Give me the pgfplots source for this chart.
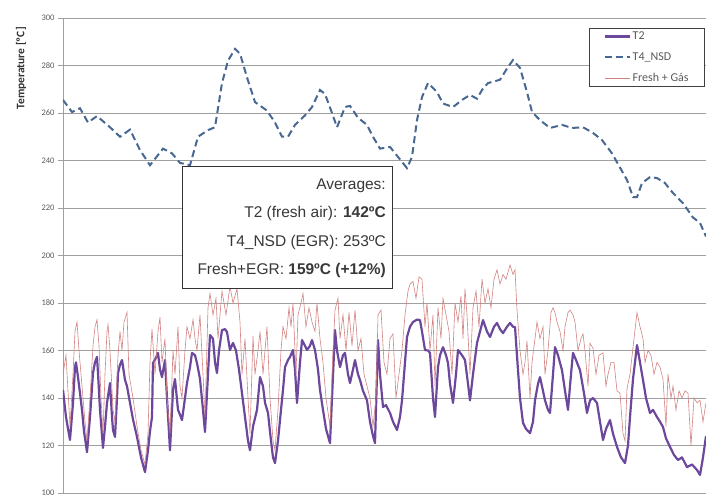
\documentclass[border=0pt]{standalone}
\usepackage{pgfplots}
\pgfplotsset{compat=1.18}
\usepackage{fontspec}
\setmainfont{Carlito}
\newfontfamily\arialf{Liberation Sans}

\definecolor{tTwo}{RGB}{108,72,156}
\definecolor{tFour}{RGB}{72,104,146}
\definecolor{fresh}{RGB}{210,130,130}
\definecolor{gridc}{RGB}{160,160,160}
\definecolor{tickc}{RGB}{90,90,90}

\begin{document}
\begin{tikzpicture}
\begin{axis}[
  scale only axis,
  width=643pt, height=475pt,
  xmin=63, xmax=706,
  ymin=100, ymax=300,
  ytick={100,120,...,300},
  xtick=\empty,
  ymajorgrids=true,
  grid style={gridc, line width=0.9pt},
  axis lines*=left,
  axis line style={gridc, -, line width=0.9pt},
  tick style={gridc, line width=0.9pt},
  tick align=outside,
  major tick length=5pt,
  /pgf/number format/assume math mode=true,
  yticklabel style={font=\fontsize{8.5}{10}\selectfont, text=tickc},
  legend style={at={(rel axis cs:1,1)}, xshift=-1pt, yshift=-10pt,
    anchor=north east, draw=black!75, line width=0.8pt,
    font=\fontsize{12}{14}\selectfont, text=tickc,
    row sep=7.5pt, inner xsep=14pt, inner ysep=1.5pt},
  legend cell align=left,
  legend image code/.code={\draw[#1] (0pt,0pt) -- (25pt,0pt);},
]
% T2
\addplot[tTwo, line width=2.2pt, line join=round] coordinates {
(63,143.4) (66,132) (70,122.3) (73,137.9) (75,153) (76,155) (78,148.8) (80,142)
(82,135) (84,126) (87,117.2) (90,132) (93,150.5) (95,155) (97,157.3) (98,150.5)
(100,135) (103,119) (105,128) (107,137.9) (110,146.3) (112,132) (113,126.5) (115,123.6)
(117,140) (118,150.5) (120,154) (122,156) (125,147.6) (127,145) (130,137.9) (133,131)
(137,123.6) (141,115) (145,108.8) (148,118) (150,126) (152,132) (153,154.7) (156,157)
(158,159) (160,152) (162,148.8) (165,156) (167,140) (170,118) (173,143.4) (175,148)
(178,135) (180,133) (182,130.7) (185,140) (187,146.3) (190,153) (192,159) (195,158)
(197,154.7) (200,148) (203,135) (205,125.7) (208,150) (210,166.5) (213,165) (215,155)
(217,150.5) (219,160) (222,168.6) (225,169) (227,167.8) (230,160.2) (233,163.2) (236,160)
(239,152) (242,142) (245,132) (248,122) (250,118) (253,128) (257,135) (260,148.8)
(263,145) (265,138) (268,133.7) (271,122) (273,115) (275,112.6) (278,122) (281,135)
(283,143.4) (285,153) (288,156) (290,157.3) (293,160.2) (295,152) (297,137.9) (300,155)
(302,164.4) (305,162) (307,160.2) (310,162) (312,164.4) (315,160.2) (318,152) (320,143.4)
(323,135) (326,127) (330,121) (332,140) (335,168.6) (337,160) (340,153) (343,158)
(345,159) (348,150) (350,146.3) (353,152) (355,156) (358,150) (360,147.6) (363,143)
(367,139) (370,130) (373,124) (375,121) (377,150) (378,164.4) (380,150) (383,136.2)
(386,137) (390,133.7) (393,130) (397,126.5) (400,132) (402,139) (405,155) (407,165.7)
(410,170) (413,172) (417,173) (420,172.8) (422,168) (425,160.2) (428,160) (430,159)
(433,140) (435,132) (438,153) (440,158) (443,161.4) (446,158) (448,154.7) (450,146)
(453,137.9) (456,150) (458,160.2) (462,158) (465,156) (468,146) (470,139) (473,150)
(477,163.2) (480,168) (483,172.8) (487,168) (490,165.7) (494,170) (497,171.6) (500,169)
(503,167.3) (507,170) (510,171.6) (513,170) (515,169.9) (518,151.7) (520,140) (523,129.5)
(526,127) (530,125.2) (533,130) (535,139) (538,146) (540,148.8) (543,143) (545,139)
(548,135) (550,133.7) (553,150) (555,161.4) (558,158) (562,151.7) (565,143) (568,135)
(571,150) (573,159) (576,156) (580,151.7) (584,142) (587,133.7) (590,139) (593,140)
(597,137.9) (600,130) (603,122.3) (606,127) (610,130.7) (613,125) (617,119.4) (621,115)
(625,112.6) (628,120) (630,132) (633,148) (637,162.3) (640,155) (643,147.6) (646,140)
(650,133.7) (653,135) (657,132) (660,130) (663,127.8) (666,123) (670,119.4) (674,116)
(678,113.9) (682,115) (687,110.9) (692,112) (697,109.7) (700,107.6) (703,115) (706,124)
};
% T4_NSD
\addplot[tFour, line width=2pt, dash pattern=on 7pt off 4pt] coordinates {
(63,265.5) (72,260.4) (80,262) (88,256) (97,258.7) (110,254) (120,250) (130,253)
(140,244.4) (150,238) (163,245) (172,243) (180,239) (190,238) (198,250) (208,252.8)
(215,254) (222,272.6) (228,282) (235,287) (240,285) (247,275) (255,264.6) (267,261)
(275,256) (282,250) (288,250) (295,255) (305,259) (312,262.5) (320,269.7) (325,268)
(332,260) (337,254) (345,262.5) (350,263) (358,258) (367,255) (373,250) (380,245)
(390,245.7) (398,241.5) (407,236.8) (412,241.5) (417,257) (422,266.7) (428,272.6) (437,268.8)
(443,264) (453,262.5) (462,265.5) (470,267.6) (477,266) (482,269.7) (488,272.6) (500,274)
(508,279.4) (513,282.3) (520,279) (527,268.8) (532,260.4) (540,257) (550,253.7) (562,255)
(572,253.7) (583,254) (593,251.6) (602,248.6) (612,243) (620,237) (627,231.8) (633,224.6)
(637,224.6) (642,230.5) (650,233) (657,232.6) (665,230.5) (673,226.3) (683,222) (693,216)
(700,213.7) (706,208)
};
% Fresh + Gas
\addplot[fresh, line width=0.6pt] coordinates {
(63,150) (66,158) (70,128) (73,150) (75,168) (77,172) (79,160) (82,145) (85,130) (87,122)
(90,140) (93,162) (95,170) (97,173) (99,162) (101,140) (103,125) (105,150) (107,168) (108,171)
(110,160) (113,135) (115,130) (118,158) (120,168) (122,160) (124,172) (127,176) (129,150) (131,145)
(133,140) (137,128) (141,118) (145,112) (148,125) (150,155) (152,169) (155,150) (158,168) (160,174)
(162,155) (165,165) (167,140) (170,125) (173,160) (175,150) (178,170) (180,145) (182,140) (185,160)
(187,170) (190,165) (193,173) (195,165) (197,160) (200,175) (203,150) (205,132) (208,178) (210,184)
(213,175) (216,182) (218,165) (222,185) (226,175) (230,187) (233,180) (237,186) (240,172) (242,150)
(245,165) (248,140) (250,125) (253,166) (255,150) (258,160) (260,168) (263,150) (267,170) (270,140)
(273,122) (275,118) (278,135) (281,160) (283,170) (286,165) (289,178) (291,170) (293,180) (296,150)
(298,175) (301,180) (303,184) (306,170) (309,178) (312,172) (315,168) (317,180) (320,165) (323,155)
(326,140) (330,128) (333,160) (335,177) (338,182) (340,165) (343,175) (346,160) (349,176) (352,162)
(355,177) (358,160) (361,165) (364,150) (367,145) (370,140) (373,128) (376,140) (378,175) (381,177)
(384,155) (387,150) (390,165) (393,167) (396,140) (399,150) (402,160) (405,175) (408,185) (410,188)
(413,189) (416,182) (419,191) (422,190) (425,170) (427,180) (430,160) (433,175) (435,145) (438,178)
(441,165) (443,182) (446,175) (449,168) (452,150) (455,180) (458,172) (461,183) (463,165) (465,186)
(467,175) (470,150) (473,178) (476,185) (479,170) (482,190) (485,180) (488,186) (491,178) (494,190)
(497,194) (500,188) (503,192) (506,190) (510,196) (513,192) (515,194) (517,177) (520,160) (523,150)
(525,155) (527,164) (530,140) (532,155) (535,165) (537,172) (540,165) (543,170) (545,150) (548,160)
(551,176) (553,178) (555,176) (557,172) (560,168) (563,160) (565,170) (568,176) (570,177) (573,175)
(575,172) (578,160) (581,165) (583,167) (585,160) (588,145) (590,163) (593,161) (596,150) (599,158)
(603,159) (606,145) (608,150) (611,155) (614,155) (617,143) (620,142) (623,125) (625,122) (627,144)
(630,150) (634,165) (637,176) (640,170) (643,165) (645,155) (648,160) (651,158) (654,150) (657,155)
(660,153) (663,148) (666,128) (668,150) (671,140) (673,145) (676,135) (679,143) (682,140) (685,143)
(688,142) (691,120) (694,140) (697,138) (700,139) (703,130) (706,138)
};
\legend{T2, T4\_NSD, Fresh + Gás}
% averages box
\draw[black!80, line width=1pt, fill=white] (axis cs:182,186.3) rectangle (axis cs:392,237.3);
\begin{scope}[every node/.style={anchor=base east, inner sep=0pt, text=black!78,
    font=\arialf\fontsize{15.5}{18}\selectfont}]
\node at (axis cs:386,227.6) {Averages:};
\node at (axis cs:386,215.8) {T2 (fresh air): \textbf{142ºC}};
\node at (axis cs:386,203.6) {T4\_NSD (EGR): 253ºC};
\node at (axis cs:386,191.8) {Fresh+EGR: \textbf{159ºC (+12\%)}};
\end{scope}
\end{axis}
\node[rotate=90, anchor=east, inner sep=0pt, font=\bfseries\fontsize{11.5}{13}\selectfont, text=black!80]
  at ([xshift=-42pt, yshift=-9pt]current axis.north west) {Temperature [ºC]};
\pgfresetboundingbox
\path (current axis.south west) ++(-63pt,-8pt) rectangle ++(706pt,501pt);
\end{tikzpicture}
\end{document}
